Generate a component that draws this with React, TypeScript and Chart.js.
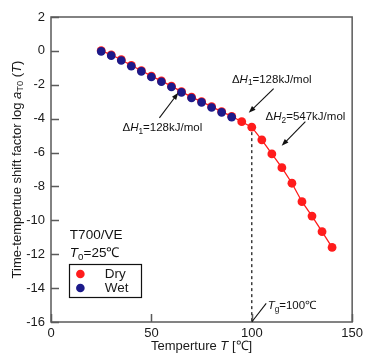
import { useEffect, useRef } from "react";
import { Chart, registerables } from "chart.js";

Chart.register(...registerables);

// Temperatures (°C) and log shift factors
const dryTemperatures = [25, 30, 35, 40, 45, 50, 55, 60, 65, 70, 75, 80, 85, 90, 95, 100, 105, 110, 115, 120, 125, 130, 135, 140];
const dryShift = [0.02, -0.23, -0.52, -0.86, -1.16, -1.49, -1.77, -2.08, -2.4, -2.73, -2.99, -3.29, -3.58, -3.86, -4.18, -4.5, -5.25, -6.08, -6.89, -7.81, -8.9, -9.75, -10.67, -11.6];
const wetTemperatures = [25, 30, 35, 40, 45, 50, 55, 60, 65, 70, 75, 80, 85, 90];
const wetShift = [-0.03, -0.28, -0.57, -0.91, -1.21, -1.54, -1.82, -2.13, -2.45, -2.78, -3.04, -3.34, -3.63, -3.91];
const xTickValues = [0, 50, 100, 150];
const yTickValues = [-16, -14, -12, -10, -8, -6, -4, -2, 0, 2];
const glassTransition = 100;

const RED = "#ff1c1c";
const BLUE = "#1c1a8a";
const FONT = "'Liberation Sans', Arial, sans-serif";

type Seg = { t: string; i?: boolean; sub?: boolean };

function richWidth(ctx: CanvasRenderingContext2D, segs: Seg[], size: number) {
  let w = 0;
  for (const s of segs) {
    const fs = s.sub ? size * 0.72 : size;
    ctx.font = `${s.i ? "italic " : ""}${fs}px ${FONT}`;
    w += ctx.measureText(s.t).width;
  }
  return w;
}

function drawRich(ctx: CanvasRenderingContext2D, segs: Seg[], x: number, y: number, size: number, align: "left" | "center" = "left") {
  let cx = align === "center" ? x - richWidth(ctx, segs, size) / 2 : x;
  ctx.textBaseline = "middle";
  ctx.textAlign = "left";
  for (const s of segs) {
    const fs = s.sub ? size * 0.72 : size;
    ctx.font = `${s.i ? "italic " : ""}${fs}px ${FONT}`;
    ctx.fillText(s.t, cx, s.sub ? y + size * 0.3 : y);
    cx += ctx.measureText(s.t).width;
  }
}

function arrow(ctx: CanvasRenderingContext2D, x1: number, y1: number, x2: number, y2: number) {
  const a = Math.atan2(y2 - y1, x2 - x1);
  const len = 7;
  const hw = 2.6;
  ctx.beginPath();
  ctx.moveTo(x1, y1);
  ctx.lineTo(x2 - Math.cos(a) * len * 0.8, y2 - Math.sin(a) * len * 0.8);
  ctx.stroke();
  ctx.beginPath();
  ctx.moveTo(x2, y2);
  ctx.lineTo(x2 - Math.cos(a) * len - Math.sin(a) * hw, y2 - Math.sin(a) * len + Math.cos(a) * hw);
  ctx.lineTo(x2 - Math.cos(a) * len + Math.sin(a) * hw, y2 - Math.sin(a) * len - Math.cos(a) * hw);
  ctx.closePath();
  ctx.fill();
}

const decorations = {
  id: "decorations",
  beforeDatasetsDraw(chart: any) {
    const { ctx, scales } = chart;
    const xs = scales.x;
    const ys = scales.y;
    // dashed marker below the glass-transition point
    const idx = dryTemperatures.indexOf(glassTransition);
    ctx.save();
    ctx.strokeStyle = "#222";
    ctx.lineWidth = 1.3;
    ctx.setLineDash([3, 3]);
    ctx.beginPath();
    const gx = xs.getPixelForValue(glassTransition);
    ctx.moveTo(gx, ys.getPixelForValue(dryShift[idx]) + 5);
    ctx.lineTo(gx, ys.bottom);
    ctx.stroke();
    ctx.restore();
  },
  afterDraw(chart: any) {
    const { ctx, scales, chartArea } = chart;
    const xs = scales.x;
    const ys = scales.y;
    const X = (v: number) => xs.getPixelForValue(v);
    const Y = (v: number) => ys.getPixelForValue(v);
    ctx.save();

    // frame and inward ticks
    ctx.strokeStyle = "#5a5a5a";
    ctx.lineWidth = 1.5;
    ctx.strokeRect(chartArea.left, chartArea.top, chartArea.right - chartArea.left, chartArea.bottom - chartArea.top);
    ctx.beginPath();
    for (const v of yTickValues) {
      const py = Math.round(Y(v)) + 0.5;
      ctx.moveTo(chartArea.left, py);
      ctx.lineTo(chartArea.left + 8, py);
    }
    for (const v of xTickValues) {
      const px = Math.round(X(v)) + 0.5;
      ctx.moveTo(px, chartArea.bottom);
      ctx.lineTo(px, chartArea.bottom - 8);
    }
    ctx.stroke();

    ctx.fillStyle = "#1a1a1a";
    // axis titles
    drawRich(ctx, [{ t: "Temperture " }, { t: "T", i: true }, { t: " [℃]" }], (chartArea.left + chartArea.right) / 2, 346, 13, "center");
    ctx.save();
    ctx.translate(17, (chartArea.top + chartArea.bottom) / 2);
    ctx.rotate(-Math.PI / 2);
    drawRich(ctx, [
      { t: "Time-tempertue shift factor log " },
      { t: "a", i: true },
      { t: "T0", sub: true },
      { t: " (" },
      { t: "T", i: true },
      { t: ")" },
    ], 0, 0, 13, "center");
    ctx.restore();

    // activation energy notes
    ctx.strokeStyle = "#111";
    ctx.fillStyle = "#111";
    ctx.lineWidth = 1.1;
    const dH = (n: string, val: string): Seg[] => [{ t: "Δ" }, { t: "H", i: true }, { t: n, sub: true }, { t: `=${val}kJ/mol` }];
    drawRich(ctx, dH("1", "128"), X(35.6), Y(-4.54), 11.5);
    arrow(ctx, X(54.0), Y(-3.95), X(63.4), Y(-2.47));
    drawRich(ctx, dH("1", "128"), X(90.1), Y(-1.7), 11.5);
    arrow(ctx, X(110.9), Y(-2.23), X(98.5), Y(-3.65));
    drawRich(ctx, dH("2", "547"), X(106.9), Y(-3.89), 11.5);
    arrow(ctx, X(126.7), Y(-4.18), X(114.9), Y(-5.6));

    // glass transition label
    ctx.beginPath();
    ctx.moveTo(X(glassTransition), Y(-16));
    ctx.lineTo(X(107.2), Y(-14.9));
    ctx.stroke();
    drawRich(ctx, [{ t: "T", i: true }, { t: "g", sub: true }, { t: "=100℃" }], X(107.9), Y(-15.07), 11.5);

    // sample label
    drawRich(ctx, [{ t: "T700/VE" }], X(9.4), Y(-10.87), 13.5);
    drawRich(ctx, [{ t: "T", i: true }, { t: "0", sub: true }, { t: "=25℃" }], X(9.4), Y(-11.93), 13.5);

    // legend
    const lx = X(8.9);
    const ly = Y(-12.58);
    ctx.strokeStyle = "#111";
    ctx.lineWidth = 1.2;
    ctx.strokeRect(Math.round(lx) + 0.5, Math.round(ly) + 0.5, 72, 33);
    const entries = [
      { label: "Dry", color: RED },
      { label: "Wet", color: BLUE },
    ];
    entries.forEach((e, k) => {
      const cy = ly + 10 + k * 14;
      ctx.fillStyle = e.color;
      ctx.beginPath();
      ctx.arc(lx + 11.5, cy, 4.3, 0, Math.PI * 2);
      ctx.fill();
      ctx.fillStyle = "#1a1a1a";
      drawRich(ctx, [{ t: e.label }], lx + 36, cy, 13.5);
    });

    ctx.restore();
  },
};

export default function App() {
  const canvasRef = useRef<HTMLCanvasElement | null>(null);

  useEffect(() => {
    if (!canvasRef.current) return;
    const chart = new Chart(canvasRef.current, {
      type: "scatter",
      data: {
        datasets: [
          {
            label: "Dry",
            data: dryTemperatures.map((t, i) => ({ x: t, y: dryShift[i] })),
            showLine: true,
            borderColor: RED,
            borderWidth: 1.3,
            backgroundColor: RED,
            pointBackgroundColor: RED,
            pointBorderWidth: 0,
            pointRadius: 4.4,
            order: 2,
          },
          {
            label: "Wet",
            data: wetTemperatures.map((t, i) => ({ x: t, y: wetShift[i] })),
            showLine: false,
            backgroundColor: BLUE,
            pointBackgroundColor: BLUE,
            pointBorderWidth: 0,
            pointRadius: 4.3,
            order: 1,
          },
        ],
      },
      options: {
        animation: false,
        responsive: false,
        devicePixelRatio: 1,
        layout: { padding: { top: 17, right: 13, left: 0, bottom: 0 } },
        plugins: { legend: { display: false }, tooltip: { enabled: false } },
        scales: {
          x: {
            type: "linear",
            min: 0,
            max: 150,
            afterBuildTicks: (s: any) => {
              s.ticks = xTickValues.map((v) => ({ value: v }));
            },
            afterFit: (s: any) => {
              s.height = 32;
            },
            grid: { display: false, drawTicks: false },
            border: { display: false },
            ticks: { padding: 4, color: "#1a1a1a", font: { size: 13, family: FONT }, maxRotation: 0 },
          },
          y: {
            type: "linear",
            min: -16,
            max: 2,
            afterBuildTicks: (s: any) => {
              s.ticks = yTickValues.map((v) => ({ value: v }));
            },
            afterFit: (s: any) => {
              s.width = 51;
            },
            grid: { display: false, drawTicks: false },
            border: { display: false },
            ticks: { padding: 6, color: "#1a1a1a", font: { size: 13, family: FONT } },
          },
        },
      },
      plugins: [decorations],
    });
    return () => chart.destroy();
  }, []);

  return (
    <div style={{ position: "fixed", left: 0, top: 0, width: 367, height: 354, background: "#fff" }}>
      <canvas ref={canvasRef} width={367} height={354} style={{ display: "block" }} />
    </div>
  );
}
